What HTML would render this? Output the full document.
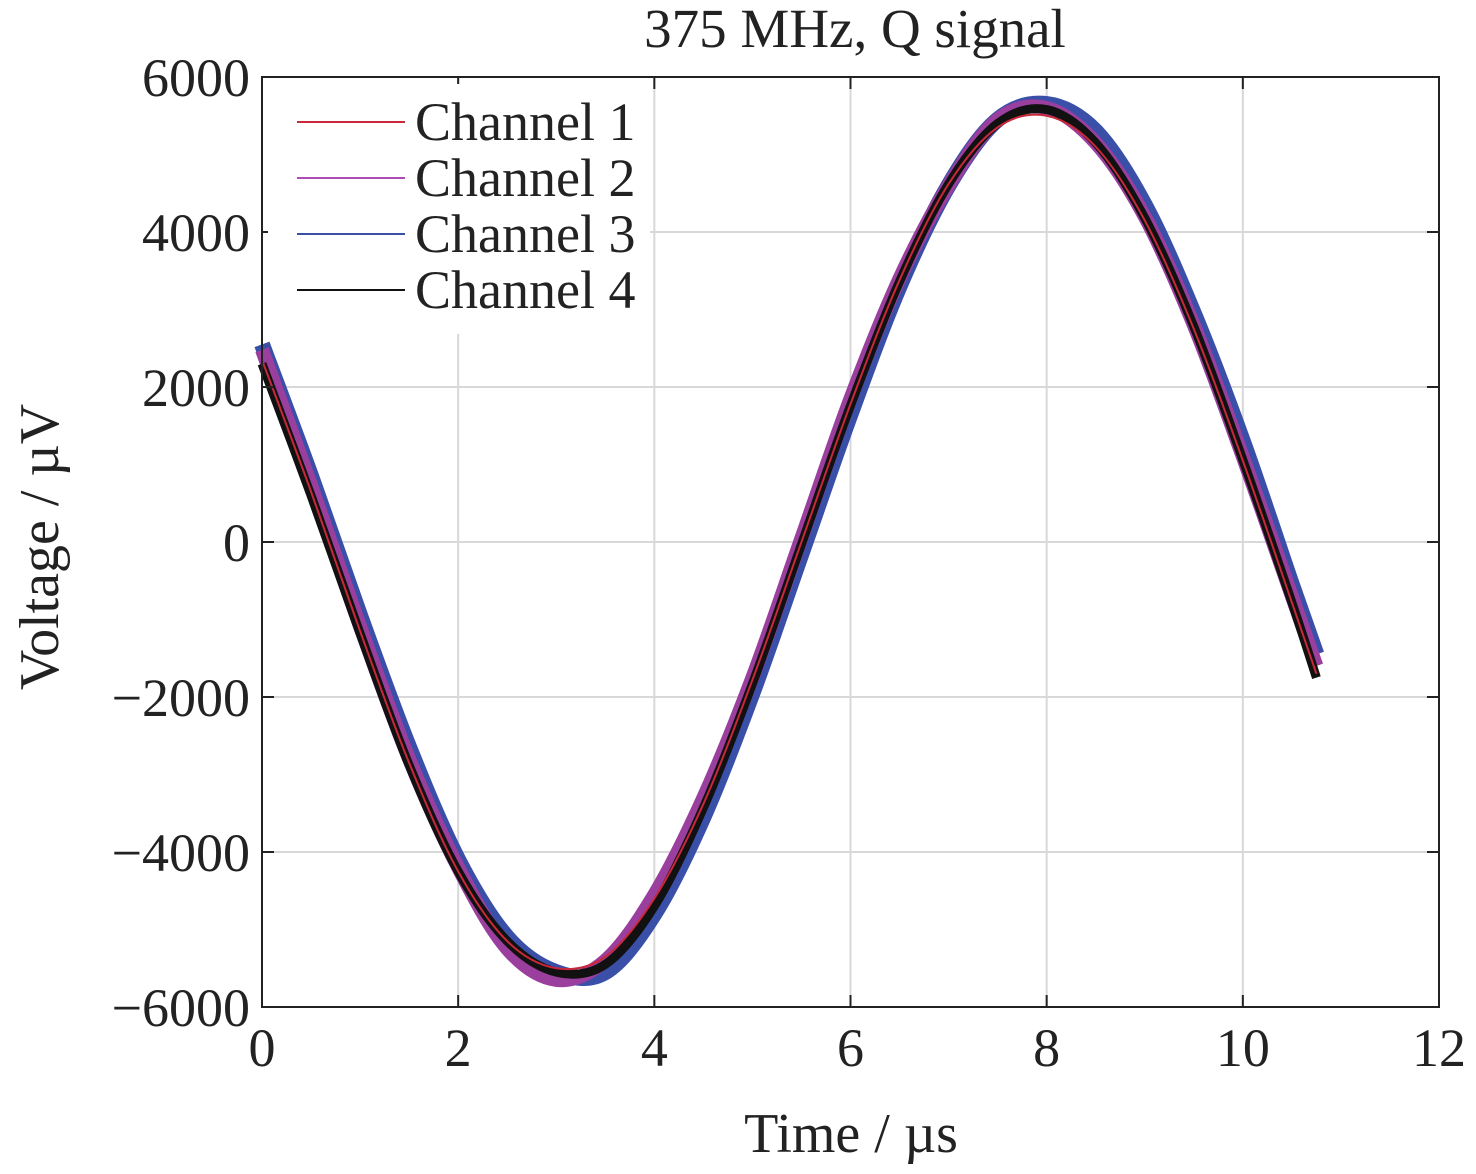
<!DOCTYPE html>
<html><head><meta charset="utf-8"><style>
body{margin:0;background:#fff}
svg text{font-family:"Liberation Serif",serif;fill:#222}
</style></head><body>
<svg id="chart" width="1476" height="1169" viewBox="0 0 1476 1169" xmlns="http://www.w3.org/2000/svg">
<rect width="1476" height="1169" fill="#fff"/>
<g id="grid"></g>
<g id="series"></g>
<g id="axes"></g>
<text x="855" y="47" font-size="55" text-anchor="middle">375 MHz, Q signal</text>
<text x="851" y="1152" font-size="56" text-anchor="middle">Time / µs</text>
<text transform="translate(58,547) rotate(-90)" font-size="56" text-anchor="middle">Voltage / µV</text>
<g id="legend"></g>
</svg>
<script>
const times=[0,0.5,1,1.5,2,2.5,3,3.5,4,4.5,5,5.5,6,6.5,7,7.5,8,8.5,9,9.5,10,10.5,10.75];
const ch1=[2350,650,-1150,-2850,-4250,-5150,-5500,-5350,-4600,-3380,-1780,0,1780,3380,4620,5350,5500,5100,4150,2750,1050,-780,-1700];
const ch2=[2480,730,-1090,-2800,-4200,-5250,-5650,-5400,-4550,-3300,-1750,50,1850,3400,4600,5450,5600,5150,4200,2800,1100,-700,-1600];
const ch3=[2550,850,-950,-2650,-4100,-5100,-5550,-5550,-4800,-3550,-1950,-150,1650,3300,4600,5450,5650,5300,4350,2950,1300,-550,-1450];
const ch4=[2300,600,-1180,-2880,-4250,-5150,-5550,-5450,-4700,-3430,-1830,-30,1760,3360,4620,5400,5580,5150,4180,2780,1060,-780,-1750];
const xTicks=[0,2,4,6,8,10,12];
const yTicks=[-6000,-4000,-2000,0,2000,4000,6000];
const x0=262,x1=1439,y0=1007,y1=77;
const X=t=>x0+(t-0)/12*(x1-x0);
const Y=v=>y0-(v+6000)/12000*(y0-y1);
const NS="http://www.w3.org/2000/svg";
function mk(tag,attrs,parent){const e=document.createElementNS(NS,tag);for(const k in attrs)e.setAttribute(k,attrs[k]);parent.appendChild(e);return e;}
const grid=document.getElementById('grid'),axes=document.getElementById('axes'),series=document.getElementById('series'),legend=document.getElementById('legend');
xTicks.forEach(t=>{
 const g=mk('line',{x1:X(t),x2:X(t),y1:y1,y2:y0,stroke:'#d8d8d8','stroke-width':2},grid);
 
 
 mk('line',{x1:X(t),x2:X(t),y1:y0,y2:y0-12,stroke:'#222','stroke-width':2},axes);
 mk('line',{x1:X(t),x2:X(t),y1:y1,y2:y1+12,stroke:'#222','stroke-width':2},axes);
 const tx=mk('text',{x:X(t),y:1066,'font-size':54,'text-anchor':'middle'},axes);
 tx.textContent=t;
 
 
});
yTicks.forEach(v=>{
 const g=mk('line',{x1:x0,x2:x1,y1:Y(v),y2:Y(v),stroke:'#d8d8d8','stroke-width':2},grid);
 
 
 mk('line',{x1:x0,x2:x0+12,y1:Y(v),y2:Y(v),stroke:'#222','stroke-width':2},axes);
 mk('line',{x1:x1,x2:x1-12,y1:Y(v),y2:Y(v),stroke:'#222','stroke-width':2},axes);
 const tx=mk('text',{x:250,y:Y(v)+19,'font-size':54,'text-anchor':'end'},axes);
 tx.textContent=v<0?'\u2212'+(-v):String(v);
 
 
});
const frame=mk('rect',{x:x0,y:y1,width:x1-x0,height:y0-y1,fill:'none',stroke:'#222','stroke-width':2},axes);


function pathFor(vals){
 const p=times.map((t,i)=>[X(t),Y(vals[i])]);
 let d='M'+p[0][0]+','+p[0][1];
 for(let i=0;i<p.length-1;i++){
  const a=p[Math.max(i-1,0)],b=p[i],c=p[i+1],e=p[Math.min(i+2,p.length-1)];
  const c1=[b[0]+(c[0]-a[0])/6,b[1]+(c[1]-a[1])/6],c2=[c[0]-(e[0]-b[0])/6,c[1]-(e[1]-b[1])/6];
  d+=' C'+c1+' '+c2+' '+c;
 }
 return d;
}
const defs=[[ch3,'#3a4fa8',16,'channel-3-line'],[ch2,'#9b3f9f',14,'channel-2-line'],[ch4,'#111',9,'channel-4-line'],[ch1,'#c8283a',2,'channel-1-line']];
defs.forEach(s=>{
 const p=mk('path',{d:pathFor(s[0]),fill:'none',stroke:s[1],'stroke-width':s[2],'stroke-linejoin':'round'},series);
 
 
});
mk('rect',{x:268,y:84,width:382,height:250,fill:'#fff'},legend);
[['Channel 1','#c8283a'],['Channel 2','#b04ab5'],['Channel 3','#3a4fa8'],['Channel 4','#111']].forEach((e,i)=>{
 const y=122+i*56;
 const l=mk('line',{x1:297,x2:405,y1:y,y2:y,stroke:e[1],'stroke-width':2},legend);
 
 
 const t=mk('text',{x:415,y:y+18,'font-size':54},legend);
 t.textContent=e[0];
 
 
});
</script>
</body></html>
